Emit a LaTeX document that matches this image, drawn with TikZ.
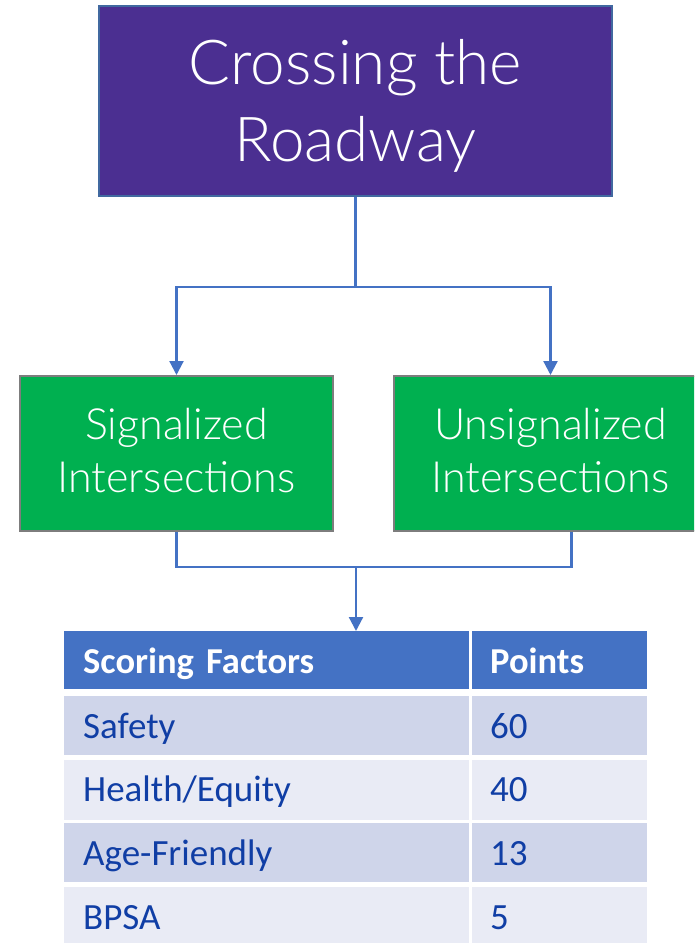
\documentclass[tikz,border=0pt]{standalone}
\usepackage{fontspec}
\setmainfont{Carlito}
\newfontfamily\lightfont{Lato Light}
\usetikzlibrary{arrows.meta}
\definecolor{topfill}{RGB}{75,47,145}
\definecolor{topedge}{RGB}{65,105,160}
\definecolor{grnfill}{RGB}{0,176,80}
\definecolor{grnedge}{RGB}{125,125,125}
\definecolor{conncol}{RGB}{68,114,196}
\definecolor{hdrfill}{RGB}{68,114,196}
\definecolor{rowA}{RGB}{207,213,234}
\definecolor{rowB}{RGB}{233,235,245}
\definecolor{rowtext}{RGB}{16,62,165}
\tikzset{
  topbox/.style={draw=topedge, line width=1.5pt, fill=topfill,
    minimum width=513pt, minimum height=190pt, inner sep=0pt},
  toptext/.style={text=white, align=center, inner sep=0pt, yshift=-5pt,
    font=\lightfont\fontsize{62}{77}\selectfont},
  grnbox/.style={draw=grnedge, line width=2pt, fill=grnfill,
    minimum width=313pt, minimum height=155pt, inner sep=0pt},
  grntext/.style={text=white, align=center, inner sep=0pt, yshift=3pt,
    font=\lightfont\fontsize{43}{53}\selectfont},
  conn/.style={draw=conncol, line width=2.2pt},
  arr/.style={conn, -{Triangle[width=14pt,length=14pt]}},
  cellA/.style={anchor=north west, inner xsep=19pt, inner ysep=0pt, text width=367pt, align=left,
    font=\fontsize{37}{44}\selectfont, text height=42pt},
  cellB/.style={anchor=north west, inner xsep=18pt, inner ysep=0pt, text width=139pt, align=left,
    font=\fontsize{37}{44}\selectfont, text height=42pt},
  hdr/.style={fill=hdrfill, text=white, text depth=16pt, font=\bfseries\fontsize{36.5}{44}\selectfont},
  rA/.style={fill=rowA, text=rowtext, text depth=17pt},
  rB/.style={fill=rowB, text=rowtext, text depth=18pt},
}
\begin{document}
\begin{tikzpicture}[x=1pt,y=-1pt]
\clip (0,0) rectangle (694,943);
\fill[white] (0,0) rectangle (694,943);

\node[topbox, label={[toptext]center:{Crossing the\\Roadway}}] (top) at (355.5,101) {};
\node[grnbox, label={[grntext]center:{Signalized\\Intersections}}] (sig) at (176.5,453.5) {};
\node[grnbox, label={[grntext]center:{Unsignalized\\Intersections}}] (uns) at (550.5,453.5) {};

\coordinate (j1) at (355.5,287);
\coordinate (j2) at (356,567);

% table
\node[cellA,hdr] (h1) at (64,631) {Scoring Factors};
\node[cellB,hdr] (h2) at (472,631) {Points};
\node[cellA,rA] (a1) at (64,696) {Safety};
\node[cellB,rA] (b1) at (472,696) {60};
\node[cellA,rB] (a2) at (64,759.5) {Health/Equity};
\node[cellB,rB] (b2) at (472,759.5) {40};
\node[cellA,rA] (a3) at (64,823) {Age-Friendly};
\node[cellB,rA] (b3) at (472,823) {13};
\node[cellA,rB] (a4) at (64,887) {BPSA};
\node[cellB,rB] (b4) at (472,887) {5};

\draw[conn] (top.south) -- (j1);
\draw[arr] (j1) -| (sig.north);
\draw[arr] (j1) -| (uns.north);
\draw[conn] (sig.south) |- (j2);
\draw[conn] ([xshift=21pt]uns.south) |- (j2);
\draw[arr] (j2) -- (j2 |- h1.north);
\end{tikzpicture}
\end{document}
